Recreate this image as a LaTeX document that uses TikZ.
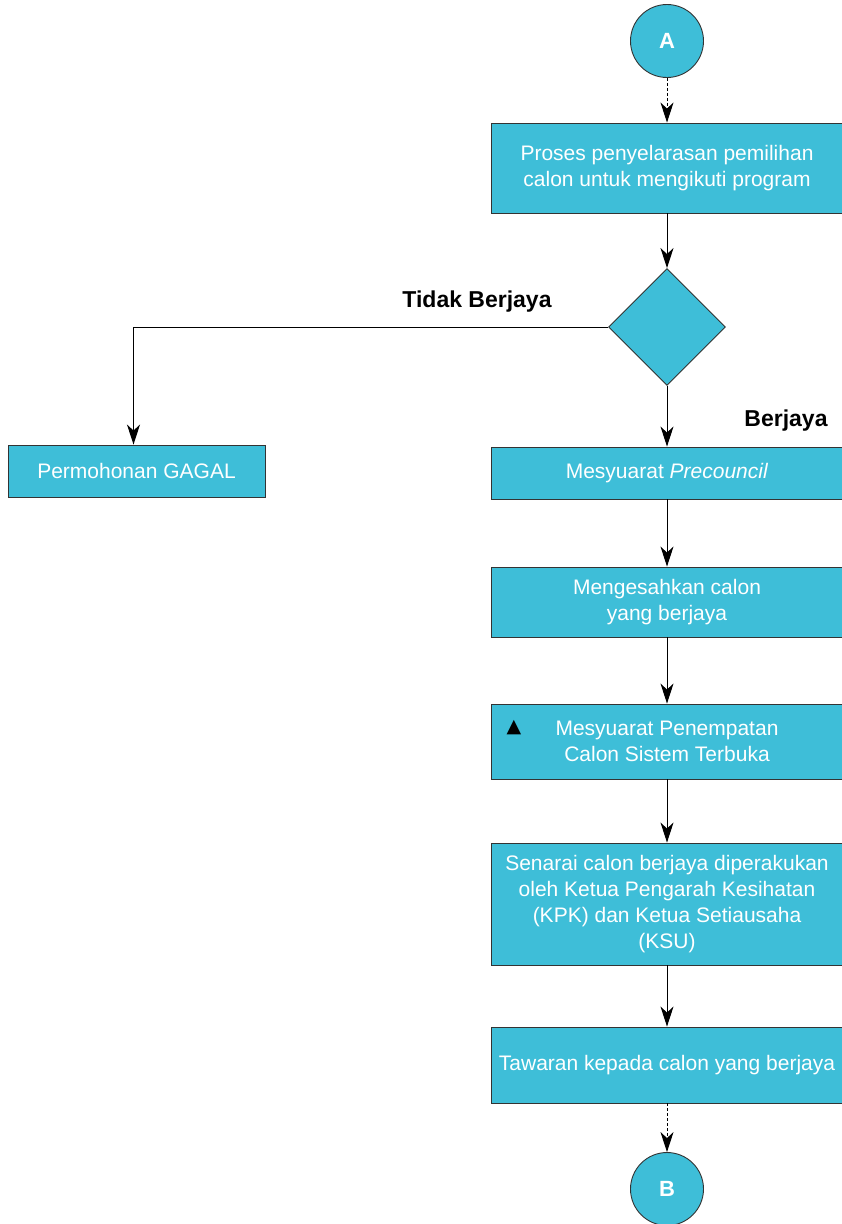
\documentclass[tikz,border=0pt]{standalone}
\usepackage{fontspec}
\setmainfont{Liberation Sans}
\newfontfamily\symfont{DejaVu Sans}
\usetikzlibrary{arrows.meta,shapes.geometric}
\definecolor{boxcyan}{RGB}{62,190,216}

\begin{document}
\begin{tikzpicture}[x=1pt,y=-1pt,
  process/.style={draw=black!80, fill=boxcyan, text=white, minimum width=352pt, align=center, inner sep=0pt, font=\fontsize{21}{26}\selectfont, line width=0.9pt},
  connector/.style={circle, draw=black!80, fill=boxcyan, text=white, minimum size=73pt, inner sep=0pt, line width=0.9pt, font=\fontsize{22}{26}\selectfont\bfseries},
  decision/.style={diamond, draw=black!80, fill=boxcyan, minimum width=117pt, minimum height=117pt, inner sep=0pt, line width=0.9pt},
  flow/.style={-{Stealth[length=20pt,width=13pt,inset=6pt]}, line width=1pt},
  dotflow/.style={flow, dash pattern=on 3pt off 2pt},
  outcome/.style={font=\fontsize{23}{26}\selectfont\bfseries}]

\useasboundingbox (0,0) rectangle (842,1224);

%draw connectors A and B
\node[connector] (A) at (667,41) {A};
\node[connector] (B) at (667,1189) {B};

%draw process boxes
\node[process, minimum height=90pt] (proses) at (667,168) {Proses penyelarasan pemilihan\\calon untuk mengikuti program};
\node[decision] (pilih) at (667,327) {};
\node[process, minimum width=257pt, minimum height=52pt] (gagal) at (136.5,471) {Permohonan GAGAL};
\node[process, minimum height=52pt] (precouncil) at (667,473) {Mesyuarat \textit{Precouncil}};
\node[process, minimum height=70pt] (sah) at (667,602) {Mengesahkan calon\\yang berjaya};
\node[process, minimum height=75pt] (penempatan) at (667,741.5) {Mesyuarat Penempatan\\Calon Sistem Terbuka};
\node[font=\symfont\fontsize{19}{19}\selectfont] (segitiga) at (514,727.5) {▲};
\node[process, minimum height=122pt] (senarai) at (667,904) {Senarai calon berjaya diperakukan\\oleh Ketua Pengarah Kesihatan\\(KPK) dan Ketua Setiausaha\\(KSU)};
\node[process, minimum height=76pt] (tawaran) at (667,1065) {Tawaran kepada calon yang berjaya};

%draw labels
\node[outcome] (tidak) at (477,302) {Tidak Berjaya};
\node[outcome] (berjaya) at (786,421) {Berjaya};

%draw arrows
\draw[dotflow] (A) -- (proses);
\draw[flow] (proses) -- (pilih);
\draw[flow] (pilih.west) -| ([xshift=-3pt]gagal.north);
\draw[flow] (pilih) -- (precouncil);
\draw[flow] (precouncil) -- (sah);
\draw[flow] (sah) -- (penempatan);
\draw[flow] (penempatan) -- (senarai);
\draw[flow] (senarai) -- (tawaran);
\draw[dotflow] (tawaran) -- (B);
\end{tikzpicture}
\end{document}
